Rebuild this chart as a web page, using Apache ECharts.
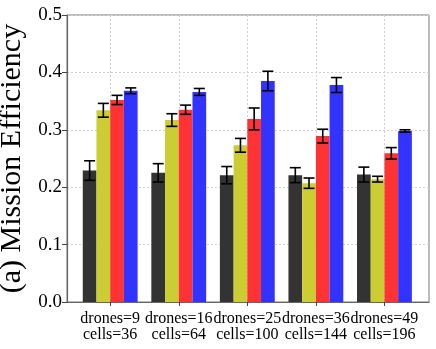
<!DOCTYPE html>
<html>
<head>
<meta charset="utf-8">
<script src="https://cdn.jsdelivr.net/npm/echarts@6/dist/echarts.min.js"></script>
<style>
    html, body {margin: 0; padding: 0; background: #fff;}
    #main {width: 436px; height: 349px;}
</style>
</head>
<body>
<div id="main"></div>
<script>
// group labels on the x axis
const categories = ['drones=9\ncells=36', 'drones=16\ncells=64', 'drones=25\ncells=100',
    'drones=36\ncells=144', 'drones=49\ncells=196'];

// mean values and error (half length) per series
const dark_vals = [0.229, 0.225, 0.221, 0.221, 0.222];
const dark_err = [0.017, 0.016, 0.015, 0.013, 0.013];
const yellow_vals = [0.334, 0.317, 0.273, 0.207, 0.214];
const yellow_err = [0.012, 0.011, 0.012, 0.009, 0.005];
const red_vals = [0.352, 0.335, 0.319, 0.289, 0.259];
const red_err = [0.008, 0.008, 0.019, 0.012, 0.010];
const blue_vals = [0.368, 0.366, 0.385, 0.378, 0.298];
const blue_err = [0.005, 0.006, 0.017, 0.013, 0.002];

const font = 'Liberation Serif';
const bar_w = 0.2;

function make_series(name, vals, errs, color, offset) {
    return {
        name: name,
        type: 'custom',
        data: vals.map((v, i) => [i, v, errs[i]]),
        renderItem: (params, api) => {
            const x = api.value(0) + offset;
            const y = api.value(1);
            const e = api.value(2);
            const top = api.coord([x, y]);
            const base = api.coord([x, 0]);
            const w = api.size([bar_w, 0])[0];
            const hi = api.coord([x, y + e]);
            const lo = api.coord([x, y - e]);
            const cap = 5.5;
            const line_style = {stroke: '#000', lineWidth: 1.6};
            return {
                type: 'group',
                children: [
                    {
                        type: 'rect',
                        shape: {x: top[0] - w / 2, y: top[1], width: w, height: base[1] - top[1]},
                        style: {fill: color}
                    },
                    {type: 'line', shape: {x1: hi[0], y1: hi[1], x2: lo[0], y2: lo[1]}, style: line_style},
                    {type: 'line', shape: {x1: hi[0] - cap, y1: hi[1], x2: hi[0] + cap, y2: hi[1]}, style: line_style},
                    {type: 'line', shape: {x1: lo[0] - cap, y1: lo[1], x2: lo[0] + cap, y2: lo[1]}, style: line_style},
                ]
            };
        },
        z: 5
    };
}

const chart = echarts.init(document.getElementById('main'));
const idx = categories.map((c, i) => i);
const grid_line = {color: '#d0d0d0', type: [2, 2], width: 1};

chart.setOption({
    animation: false,
    grid: {
        left: 67, right: 7, top: 15, bottom: 47, outerBoundsMode: 'none',
        show: true, borderColor: '#777', borderWidth: 1
    },
    xAxis: {
        type: 'value', min: -0.63, max: 4.65,
        axisLine: {show: true, onZero: false, lineStyle: {color: '#666', width: 1.2}},
        axisTick: {show: true, customValues: idx, length: 4, lineStyle: {color: '#444'}},
        axisLabel: {
            customValues: idx, margin: 9,
            formatter: (v) => categories[Math.round(v)],
            fontFamily: font, fontSize: 16, color: '#000', lineHeight: 16
        },
        splitLine: {show: true, lineStyle: grid_line}
    },
    yAxis: {
        type: 'value', min: 0, max: 0.5, interval: 0.1,
        name: '(a) Mission Efficiency', nameLocation: 'middle', nameGap: 38,
        nameTextStyle: {fontFamily: font, fontSize: 30, color: '#000'},
        axisLine: {show: true, onZero: false, lineStyle: {color: '#666', width: 1.2}},
        axisTick: {show: true, length: 5, lineStyle: {color: '#444'}},
        axisLabel: {
            formatter: (v) => v.toFixed(1), margin: 5,
            fontFamily: font, fontSize: 19, color: '#000'
        },
        splitLine: {show: true, lineStyle: grid_line}
    },
    series: [
        make_series('s1', dark_vals, dark_err, '#333333', -0.3),
        make_series('s2', yellow_vals, yellow_err, '#cccc33', -0.1),
        make_series('s3', red_vals, red_err, '#ff3333', 0.1),
        make_series('s4', blue_vals, blue_err, '#3333ff', 0.3)
    ]
});
</script>
</body>
</html>
